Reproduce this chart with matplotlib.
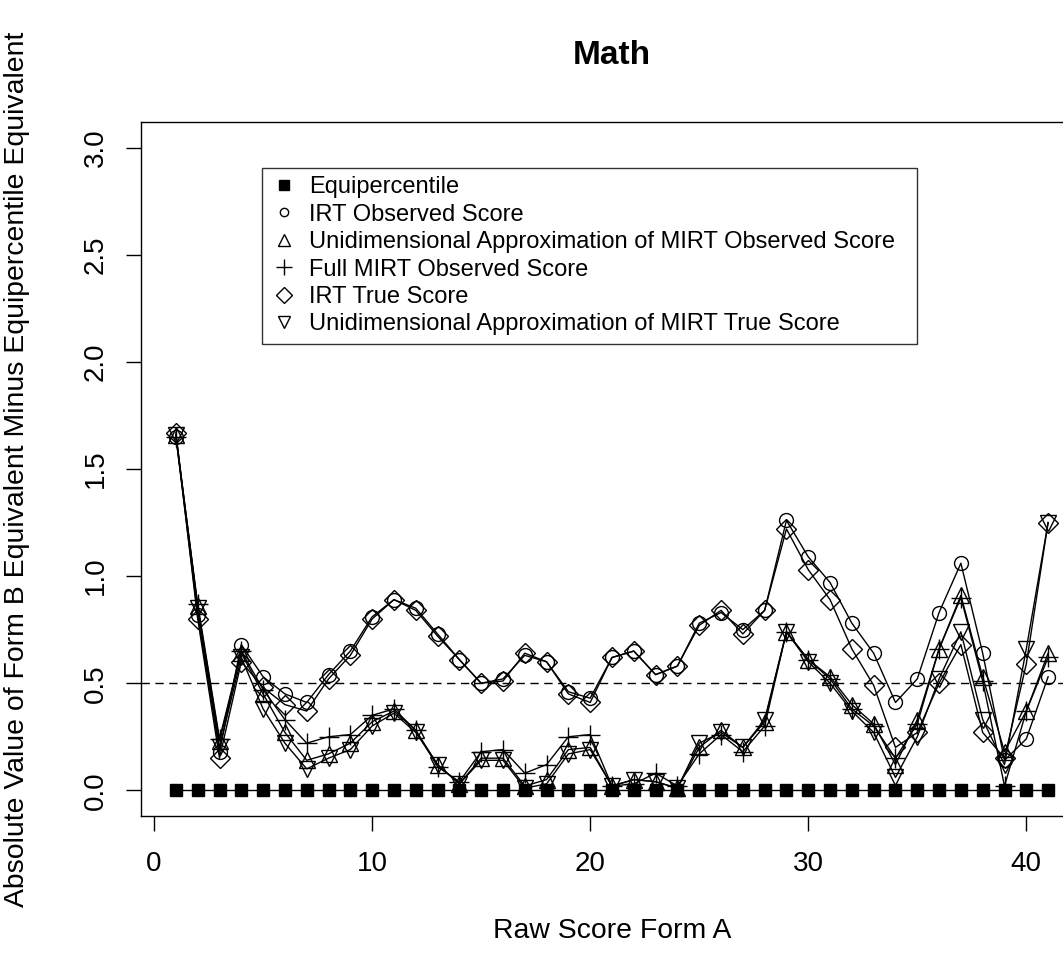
import matplotlib
matplotlib.use("Agg")
import matplotlib.pyplot as plt
from matplotlib.lines import Line2D
from matplotlib.transforms import Bbox

plt.rcParams['font.family'] = ['Liberation Sans', 'DejaVu Sans']

raw_score = list(range(1, 42))

equipercentile = [0.0] * 41

irt_observed = [1.65, 0.82, 0.18, 0.68, 0.53, 0.45, 0.41, 0.54, 0.65, 0.81,
                0.89, 0.85, 0.73, 0.61, 0.50, 0.52, 0.63, 0.60, 0.46, 0.43,
                0.62, 0.65, 0.54, 0.58, 0.78, 0.83, 0.75, 0.84, 1.26, 1.09,
                0.97, 0.78, 0.64, 0.41, 0.52, 0.83, 1.06, 0.64, 0.14, 0.24,
                0.53]

uni_mirt_observed = [1.66, 0.86, 0.23, 0.64, 0.45, 0.27, 0.14, 0.17, 0.22, 0.32,
                     0.37, 0.28, 0.12, 0.03, 0.15, 0.15, 0.02, 0.05, 0.19, 0.20,
                     0.02, 0.05, 0.04, 0.01, 0.20, 0.28, 0.20, 0.32, 0.74, 0.61,
                     0.53, 0.40, 0.31, 0.12, 0.33, 0.66, 0.91, 0.53, 0.18, 0.37,
                     0.64]

full_mirt_observed = [1.65, 0.87, 0.24, 0.65, 0.47, 0.33, 0.22, 0.25, 0.26, 0.35,
                      0.38, 0.28, 0.11, 0.04, 0.18, 0.19, 0.08, 0.12, 0.25, 0.26,
                      0.02, 0.03, 0.08, 0.02, 0.17, 0.26, 0.18, 0.30, 0.74, 0.61,
                      0.52, 0.38, 0.30, 0.15, 0.31, 0.66, 0.90, 0.51, 0.02, 0.37,
                      0.62]

irt_true = [1.67, 0.80, 0.15, 0.60, 0.48, 0.40, 0.37, 0.52, 0.63, 0.80,
            0.89, 0.84, 0.72, 0.61, 0.50, 0.51, 0.64, 0.60, 0.45, 0.41,
            0.62, 0.65, 0.54, 0.58, 0.77, 0.84, 0.73, 0.84, 1.22, 1.03,
            0.89, 0.66, 0.49, 0.20, 0.27, 0.50, 0.68, 0.27, 0.15, 0.59,
            1.25]

uni_mirt_true = [1.66, 0.85, 0.20, 0.62, 0.38, 0.22, 0.10, 0.15, 0.19, 0.30,
                 0.36, 0.27, 0.12, 0.03, 0.14, 0.14, 0.01, 0.03, 0.17, 0.19,
                 0.02, 0.05, 0.04, 0.01, 0.22, 0.27, 0.20, 0.33, 0.74, 0.60,
                 0.50, 0.37, 0.27, 0.06, 0.25, 0.52, 0.74, 0.33, 0.12, 0.66,
                 1.25]

labels = ["Equipercentile",
          "IRT Observed Score",
          "Unidimensional Approximation of MIRT Observed Score",
          "Full MIRT Observed Score",
          "IRT True Score",
          "Unidimensional Approximation of MIRT True Score"]

x_ticks = [0, 10, 20, 30, 40]
y_ticks = [0.0, 0.5, 1.0, 1.5, 2.0, 2.5, 3.0]
y_tick_labels = ["0.0", "0.5", "1.0", "1.5", "2.0", "2.5", "3.0"]

W, H = 1063, 958
fig = plt.figure(figsize=(W / 100, H / 100), dpi=100)
ax = fig.add_axes([141 / W, 1 - 816 / H, (1083 - 141) / W, (816 - 122) / H])

lw = 1.0
ax.plot(raw_score, equipercentile, color='black', lw=lw, marker='s', ms=9,
        mfc='black', mec='black', label=labels[0])
ax.plot(raw_score, irt_observed, color='black', lw=lw, marker='o', ms=10,
        mfc='none', mec='black', mew=1.0, label=labels[1])
ax.plot(raw_score, uni_mirt_observed, color='black', lw=lw, marker='^', ms=11,
        mfc='none', mec='black', mew=1.0, label=labels[2])
ax.plot(raw_score, full_mirt_observed, color='black', lw=lw, marker='+', ms=15,
        mec='black', mew=1.0, label=labels[3])
ax.plot(raw_score, irt_true, color='black', lw=lw, marker='D', ms=10,
        mfc='none', mec='black', mew=1.0, label=labels[4])
ax.plot(raw_score, uni_mirt_true, color='black', lw=lw, marker='v', ms=11,
        mfc='none', mec='black', mew=1.0, label=labels[5])

ax.axhline(0.5, color='black', lw=1.0, ls=(0, (6, 4)))

ax.set_xlim(-0.6, 42.6)
ax.set_ylim(-0.12, 3.12)
ax.set_xticks(x_ticks)
ax.set_yticks(y_ticks)
ax.set_yticklabels(y_tick_labels, rotation=90, va='center')
ax.tick_params(axis='both', direction='out', length=11, width=1, labelsize=20,
               colors='black')
ax.tick_params(axis='x', pad=14)
ax.tick_params(axis='y', pad=12)
for s in ax.spines.values():
    s.set_linewidth(1.0)

fs = 20.4
ax.set_title("Math", fontsize=24, fontweight='bold', pad=42)
ax.set_xlabel("Raw Score Form A", fontsize=fs, labelpad=30)
ax.set_ylabel("Absolute Value of Form B Equivalent Minus Equipercentile Equivalent",
              fontsize=fs, labelpad=38)

handles = []
mk = [('s', 'black', 7), ('o', 'none', 6), ('^', 'none', 8), ('+', 'none', 12),
      ('D', 'none', 8), ('v', 'none', 8)]
for (m, fc, s), lab in zip(mk, labels):
    handles.append(Line2D([], [], ls='none', marker=m, mfc=fc, mec='black',
                          ms=s, mew=1.0, color='black'))

# legend box in pixel coords: x 262..917, y 168..344 (from top)
bb = Bbox.from_extents(262 / W, 1 - 344 / H, 917 / W, 1 - 168 / H)
leg = ax.legend(handles, labels, loc='upper left',
                bbox_to_anchor=bb, bbox_transform=fig.transFigure,
                mode='expand', fontsize=17, frameon=True, fancybox=False,
                edgecolor='black', handlelength=1.16, handletextpad=0.48,
                borderpad=0.35, labelspacing=0.23, borderaxespad=0)
leg.get_frame().set_linewidth(1.0)

fig.savefig("out.png", dpi=100, facecolor='white')
